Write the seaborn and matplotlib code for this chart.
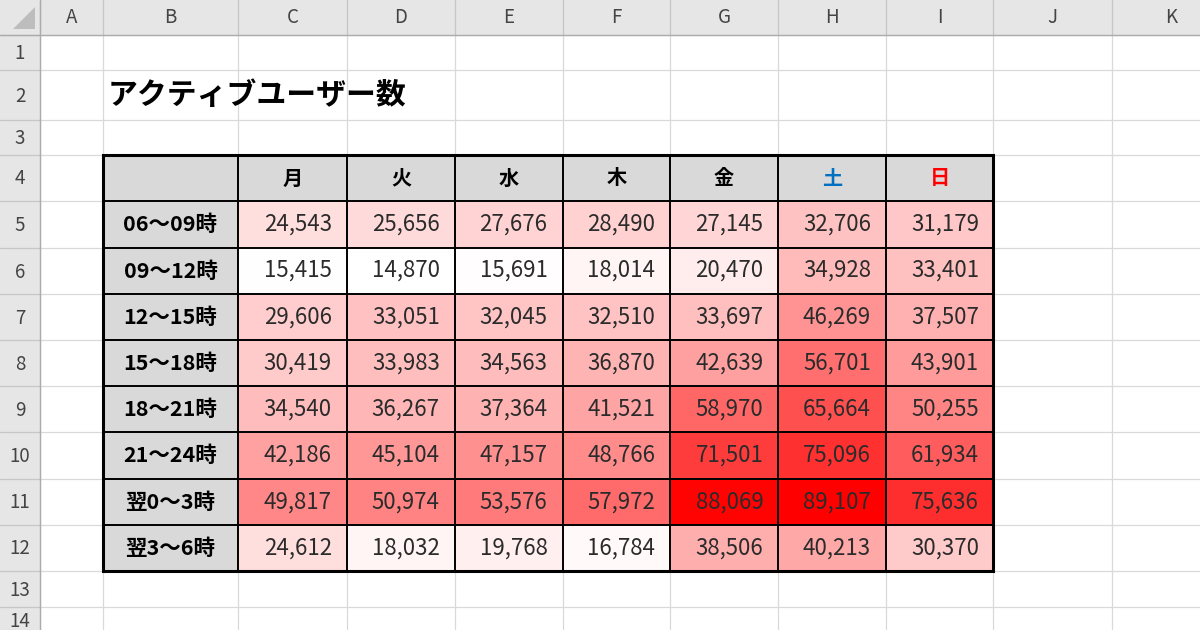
import numpy as np
import pandas as pd
import seaborn as sns
import matplotlib
matplotlib.use("Agg")
import matplotlib.pyplot as plt
from matplotlib.colors import LinearSegmentedColormap
from matplotlib.patches import Rectangle, Polygon

# ---------------- data ----------------
title = "アクティブユーザー数"
days = ["月", "火", "水", "木", "金", "土", "日"]
day_colors = ["#000000", "#000000", "#000000", "#000000", "#000000", "#0070C0", "#FF0000"]
slots = ["06～09時", "09～12時", "12～15時", "15～18時",
         "18～21時", "21～24時", "翌0～3時", "翌3～6時"]
mon = [24543, 15415, 29606, 30419, 34540, 42186, 49817, 24612]
tue = [25656, 14870, 33051, 33983, 36267, 45104, 50974, 18032]
wed = [27676, 15691, 32045, 34563, 37364, 47157, 53576, 19768]
thu = [28490, 18014, 32510, 36870, 41521, 48766, 57972, 16784]
fri = [27145, 20470, 33697, 42639, 58970, 71501, 88069, 38506]
sat = [32706, 34928, 46269, 56701, 65664, 75096, 89107, 40213]
sun = [31179, 33401, 37507, 43901, 50255, 61934, 75636, 30370]
col_letters = ["A", "B", "C", "D", "E", "F", "G", "H", "I", "J", "K"]
row_numbers = [str(i) for i in range(1, 15)]

# ---------------- layout (sheet grid in pixels) ----------------
W, H = 1200, 630
col_edges = [40, 103, 238, 347, 455, 563, 670, 778, 886, 993, 1112, 1231]
row_edges = [35, 70, 120, 155, 201, 248, 294, 340, 386, 432, 479, 525, 571, 607, 643]

FONT = ["Noto Sans CJK JP", "DejaVu Sans"]
sns.set_theme(style="white")
plt.rcParams["font.family"] = FONT

fig = plt.figure(figsize=(W / 100, H / 100), dpi=100)
fig.patch.set_facecolor("white")

# background sheet axes
bg = fig.add_axes([0, 0, 1, 1])
bg.set_xlim(0, W)
bg.set_ylim(H, 0)
bg.axis("off")

grid_c = "#D9D9D9"
for x in col_edges:
    bg.plot([x, x], [35, H], color=grid_c, lw=0.9, zorder=1)
for y in row_edges:
    bg.plot([40, W], [y, y], color=grid_c, lw=0.9, zorder=1)

# header bars
hdr_c = "#E6E6E6"
bg.add_patch(Rectangle((0, 0), W, 35, facecolor=hdr_c, edgecolor="none", zorder=2))
bg.add_patch(Rectangle((0, 0), 40, H, facecolor=hdr_c, edgecolor="none", zorder=2))
for x in col_edges:
    bg.plot([x, x], [0, 35], color="#C6C6C6", lw=0.9, zorder=3)
for y in row_edges:
    bg.plot([0, 40], [y, y], color="#C6C6C6", lw=0.9, zorder=3)
bg.plot([0, W], [35, 35], color="#ABABAB", lw=1.0, zorder=4)
bg.plot([40, 40], [0, H], color="#ABABAB", lw=1.0, zorder=4)
bg.add_patch(Polygon([[35, 7], [35, 29], [13, 29]], closed=True,
                     facecolor="#BDBDBD", edgecolor="none", zorder=4))

for i, letter in enumerate(col_letters):
    xc = (col_edges[i] + col_edges[i + 1]) / 2
    bg.text(xc, 17.5, letter, ha="center", va="center", fontsize=13.5,
            color="#444444", zorder=5)
for i, num in enumerate(row_numbers):
    yc = (row_edges[i] + row_edges[i + 1]) / 2
    if yc < H - 18:
        bg.text(20, yc + 1, num, ha="center", va="center", fontsize=13.5,
                color="#444444", zorder=5)
    else:
        bg.text(20, H + 2, num, ha="center", va="bottom", fontsize=13.5,
                color="#444444", zorder=5, clip_on=True)

# title
bg.text(108, 95, title, ha="left", va="center", fontsize=21.5,
        fontweight="bold", color="black", zorder=5)

# table header cells
tbl_l, tbl_r = col_edges[1], col_edges[9]
tbl_t, tbl_b = row_edges[3], row_edges[12]
bg.add_patch(Rectangle((tbl_l, tbl_t), tbl_r - tbl_l, row_edges[4] - tbl_t,
                       facecolor="#D9D9D9", edgecolor="none", zorder=6))
bg.add_patch(Rectangle((tbl_l, tbl_t), col_edges[2] - tbl_l, tbl_b - tbl_t,
                       facecolor="#D9D9D9", edgecolor="none", zorder=6))
for j, (d, c) in enumerate(zip(days, day_colors)):
    xc = (col_edges[j + 2] + col_edges[j + 3]) / 2
    yc = (row_edges[3] + row_edges[4]) / 2
    bg.text(xc, yc, d, ha="center", va="center", fontsize=14.5,
            fontweight="bold", color=c, zorder=7)
for i, s in enumerate(slots):
    xc = (col_edges[1] + col_edges[2]) / 2
    yc = (row_edges[i + 4] + row_edges[i + 5]) / 2
    bg.text(xc, yc, s, ha="center", va="center", fontsize=15.5,
            fontweight="bold", color="black", zorder=7)

# ---------------- heatmap ----------------
df = pd.DataFrame({d: v for d, v in zip(days, [mon, tue, wed, thu, fri, sat, sun])},
                  index=slots)
cmap = LinearSegmentedColormap.from_list("wr", ["#FFFFFF", "#FF0000"])
hx0, hx1 = col_edges[2], col_edges[9]
hy0, hy1 = row_edges[4], row_edges[12]
hax = fig.add_axes([hx0 / W, 1 - hy1 / H, (hx1 - hx0) / W, (hy1 - hy0) / H])
sns.heatmap(df, ax=hax, cmap=cmap, vmin=df.values.min(), vmax=df.values.max(),
            annot=True, fmt=",d", cbar=False, linewidths=0,
            xticklabels=False, yticklabels=False,
            annot_kws={"fontsize": 16, "color": "#2B2B2B"})
for t in hax.texts:
    x, y = t.get_position()
    t.set_position((x + 0.5 - 0.13, y))
    t.set_ha("right")
hax.set_xlabel("")
hax.set_ylabel("")

# ---------------- table borders overlay ----------------
ov = fig.add_axes([0, 0, 1, 1])
ov.set_xlim(0, W)
ov.set_ylim(H, 0)
ov.axis("off")
ov.patch.set_alpha(0)
for x in col_edges[2:9]:
    ov.plot([x, x], [tbl_t, tbl_b], color="black", lw=1.4, solid_capstyle="butt")
for y in row_edges[4:12]:
    ov.plot([tbl_l, tbl_r], [y, y], color="black", lw=1.4, solid_capstyle="butt")
ov.add_patch(Rectangle((tbl_l, tbl_t), tbl_r - tbl_l, tbl_b - tbl_t,
                       facecolor="none", edgecolor="black", lw=2.2))

fig.savefig("out.png", dpi=100, facecolor="white")
